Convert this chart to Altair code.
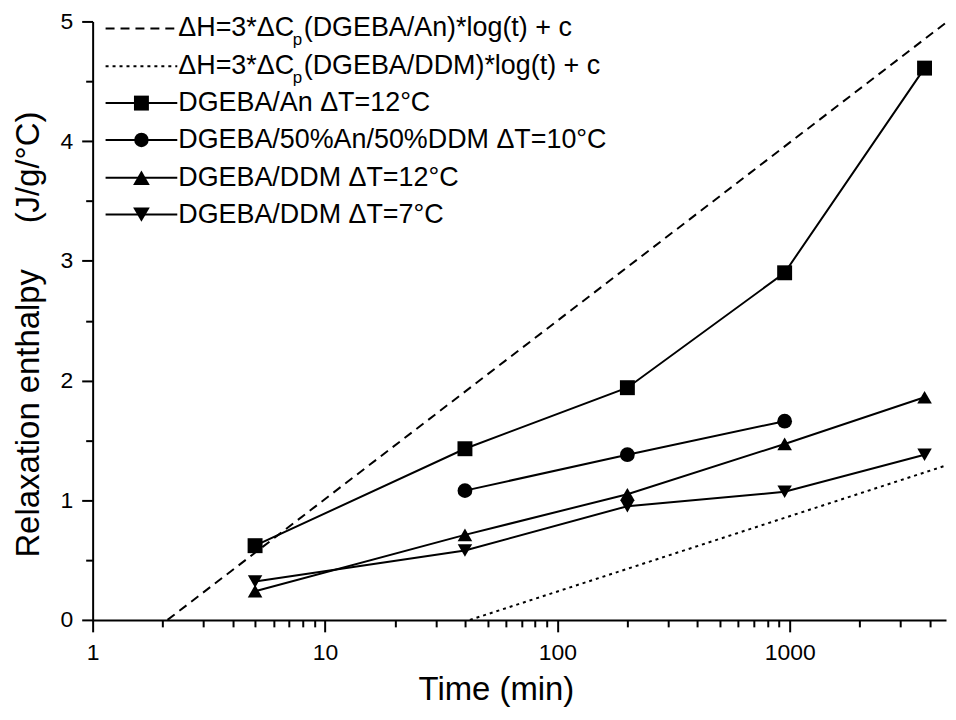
import altair as alt
import pandas as pd

FONT = "Liberation Sans"

# ---- data ----
times = [5, 40, 200, 950, 3800]
an_vals = [0.62, 1.43, 1.94, 2.90, 4.61]
mix_times = [40, 200, 950]
mix_vals = [1.08, 1.38, 1.66]
ddm12_vals = [0.24, 0.71, 1.05, 1.47, 1.86]
ddm7_vals = [0.32, 0.58, 0.95, 1.07, 1.38]

fit_an_t = [2.1, 4700]
fit_an_h = [0.0, 4.99]
fit_ddm_t = [42, 4700]
fit_ddm_h = [0.0, 1.29]

series_names = ["DGEBA/An ΔT=12°C", "DGEBA/50%An/50%DDM ΔT=10°C",
                "DGEBA/DDM ΔT=12°C", "DGEBA/DDM ΔT=7°C"]
series_shapes = ["square", "circle", "triangle-up", "triangle-down"]
series_sizes = [225, 210, 280, 280]
fit_names = ["fitAn", "fitDDM"]
fit_dashes = [[9, 6], [3, 4]]

x_ticks = [1, 2, 3, 4, 5, 6, 7, 8, 9, 10, 20, 30, 40, 50, 60, 70, 80, 90,
           100, 200, 300, 400, 500, 600, 700, 800, 900, 1000, 2000, 3000, 4000]
y_ticks = [0, 0.5, 1, 1.5, 2, 2.5, 3, 3.5, 4, 4.5, 5]

# ---- tables ----
rows = []
for s, tt, hh in zip(series_names, [times, mix_times, times, times],
                     [an_vals, mix_vals, ddm12_vals, ddm7_vals]):
    for t, h in zip(tt, hh):
        rows.append({"t": t, "H": h, "series": s})
df = pd.DataFrame(rows)

frows = []
for f, tt, hh in zip(fit_names, [fit_an_t, fit_ddm_t], [fit_an_h, fit_ddm_h]):
    for t, h in zip(tt, hh):
        frows.append({"t": t, "H": h, "fit": f})
fdf = pd.DataFrame(frows)

major_x = "abs(log(datum.value)/LN10 - round(log(datum.value)/LN10)) < 0.001"

xscale = alt.Scale(type="log", domain=[1, 4700], nice=False)
yscale = alt.Scale(domain=[0, 5], nice=False)

PLOT_H = 601

x_enc = alt.X("t:Q", scale=xscale, axis=alt.Axis(
    values=x_ticks, title="Time (min)",
    labelExpr=f"{major_x} ? format(datum.value, 'd') : ''",
    tickSize={"condition": {"test": major_x, "value": 12}, "value": 7},
    labelPadding=10, titlePadding=9, titleX=405, labelOverlap=False, labelFlush=False))
y_enc = alt.Y("H:Q", scale=yscale, axis=alt.Axis(
    values=y_ticks, title="Relaxation enthalpy\u00a0\u00a0\u00a0\u00a0\u00a0(J/g/°C)",
    labelExpr="datum.value % 1 === 0 ? format(datum.value, 'd') : ''",
    tickSize={"condition": {"test": "datum.value % 1 === 0", "value": 11}, "value": 7},
    labelPadding=9, titlePadding=15, titleY=314,
    labelOverlap=False, labelFlush=False))

fits = alt.Chart(fdf).mark_line(color="black", strokeWidth=2, clip=True).encode(
    x=x_enc, y=y_enc,
    strokeDash=alt.StrokeDash("fit:N", scale=alt.Scale(domain=fit_names, range=fit_dashes), legend=None),
)

lines = alt.Chart(df).mark_line(color="black", strokeWidth=2).encode(
    x="t:Q", y="H:Q", detail="series:N")

points = alt.Chart(df).mark_point(filled=True, color="black", opacity=1, strokeWidth=0).encode(
    x="t:Q", y="H:Q",
    shape=alt.Shape("series:N", scale=alt.Scale(domain=series_names, range=series_shapes), legend=None),
    size=alt.Size("series:N", scale=alt.Scale(domain=series_names, range=series_sizes), legend=None),
)

# ---- hand-made legend (top left, inside plot) ----
one = pd.DataFrame({"a": [0]})
leg_rows_y = [7, 45, 82, 119, 157, 194]
leg_layers = []
LX0, LX1, LSYM, LTXT = 13, 85, 49, 86
FS = 27
fit_text_parts = [("ΔH=3*ΔC", "(DGEBA/An)*log(t) + c"),
                  ("ΔH=3*ΔC", "(DGEBA/DDM)*log(t) + c")]
for i, (dash, (p1, p2)) in enumerate(zip(fit_dashes, fit_text_parts)):
    yv = leg_rows_y[i]
    leg_layers.append(alt.Chart(one).mark_rule(color="black", strokeWidth=2, strokeDash=dash).encode(
        x=alt.value(LX0), x2=alt.value(LX1), y=alt.value(yv)))
    leg_layers.append(alt.Chart(one).mark_text(align="left", baseline="middle", font=FONT, fontSize=FS, color="black").encode(
        x=alt.value(LTXT), y=alt.value(yv), text=alt.value(p1)))
    leg_layers.append(alt.Chart(one).mark_text(align="left", baseline="middle", font=FONT, fontSize=17, color="black").encode(
        x=alt.value(LTXT + 115), y=alt.value(yv + 12), text=alt.value("p")))
    leg_layers.append(alt.Chart(one).mark_text(align="left", baseline="middle", font=FONT, fontSize=FS, color="black").encode(
        x=alt.value(LTXT + 126), y=alt.value(yv), text=alt.value(p2)))
for j, (name, shp, sz) in enumerate(zip(series_names, series_shapes, series_sizes)):
    yv = leg_rows_y[j + 2]
    leg_layers.append(alt.Chart(one).mark_rule(color="black", strokeWidth=2).encode(
        x=alt.value(LX0), x2=alt.value(LX1), y=alt.value(yv)))
    leg_layers.append(alt.Chart(one).mark_point(shape=shp, filled=True, color="black", opacity=1,
                                                strokeWidth=0, size=sz).encode(
        x=alt.value(LSYM), y=alt.value(yv)))
    leg_layers.append(alt.Chart(one).mark_text(align="left", baseline="middle", font=FONT, fontSize=FS, color="black").encode(
        x=alt.value(LTXT), y=alt.value(yv), text=alt.value(name)))

chart = alt.layer(fits, lines, points, *leg_layers).properties(
    width=857, height=PLOT_H,
    padding={"left": 85, "top": 12, "right": 2, "bottom": 90},
    autosize=alt.AutoSizeParams(type="none"),
    background="white",
).configure_view(stroke=None).configure_axis(
    grid=False, domainColor="black", domainWidth=2, tickColor="black", tickWidth=2,
    labelColor="black", titleColor="black", labelFont=FONT, titleFont=FONT,
    labelFontSize=23, titleFontSize=33, titleFontWeight="normal",
)

chart.save("out.html", embed_options={"renderer": "svg", "actions": False})
